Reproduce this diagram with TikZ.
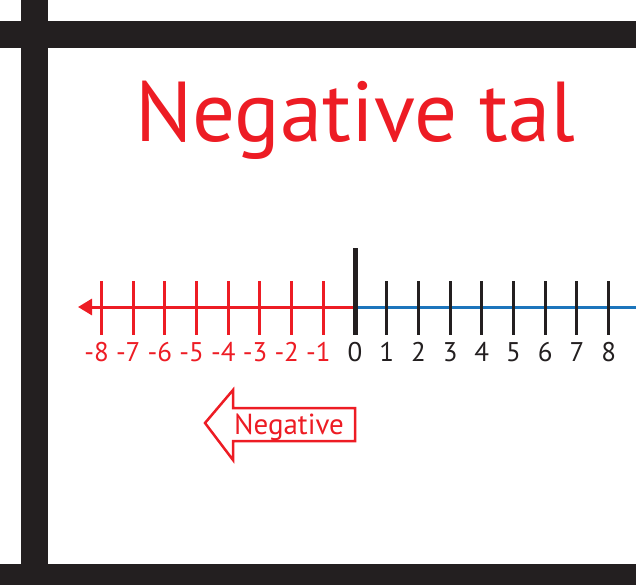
\documentclass[tikz,border=0pt]{standalone}
\usepackage{fontspec}
\setmainfont{PT Sans}
\usetikzlibrary{arrows.meta}
\definecolor{tred}{HTML}{ED1C24}
\definecolor{tblack}{HTML}{231F20}
\definecolor{tblue}{HTML}{1C75BC}
\begin{document}
\begin{tikzpicture}[x=1pt,y=-1pt,
  tick/.style={line width=3pt},
  numlab/.style={anchor=base,inner sep=0pt,font=\fontsize{27}{27}\selectfont}]
\useasboundingbox (0,0) rectangle (636,585);
% frame bars
\fill[tblack] (21,0) rectangle (48,585);
\fill[tblack] (0,21) rectangle (636,48);
\fill[tblack] (0,564) rectangle (636,585);
\node[anchor=base,inner sep=0pt,text=tred,font=\fontsize{85}{85}\selectfont] (title) at (355.5,142) {Negative tal};
% number line
\coordinate (zero) at (355,307);
\coordinate (leftend) at (78,307);
\coordinate (rightend) at (636,307);
\draw[tblue,line width=3pt] (zero) -- (rightend);
\draw[tred,line width=3pt,{Triangle[length=14pt,width=16pt]}-] (leftend) -- (zero);
\foreach \i in {1,...,8}{
  \draw[tick,tred] (355-31.7*\i,281) -- ++(0,54);
  \draw[tick,tblack] (355+31.7*\i,281) -- ++(0,54);
  \node[numlab,text=tred] (neg\i) at (355-31.7*\i,361) {\llap{-}\i};
  \node[numlab,text=tblack] (pos\i) at (355+31.7*\i,361) {\i};
}
\draw[tblack,line width=5pt] (355,248) -- (355,335);
\node[numlab,text=tblack] (lab0) at (355,361) {0};
% arrow with label
\draw[tred,line width=2.5pt,line join=miter] (205,423) -- (233,390) -- (233,408) -- (355,408) -- (355,441) -- (233,441) -- (233,460) -- cycle;
\node[anchor=base,inner sep=0pt,text=tred,font=\fontsize{29}{29}\selectfont] (neglab) at (289,434) {Negative};
\end{tikzpicture}
\end{document}
